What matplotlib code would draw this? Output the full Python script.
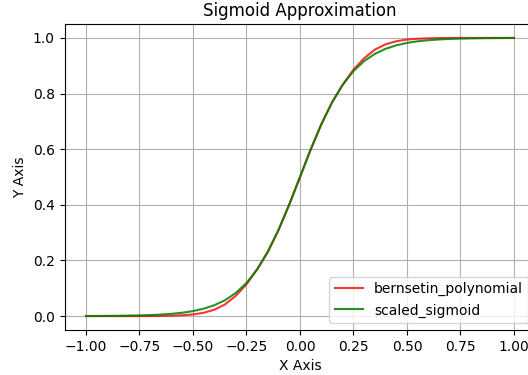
import matplotlib
matplotlib.use("Agg")
import matplotlib.pyplot as plt
import numpy as np

x = [-1.0, -0.95, -0.9, -0.85, -0.8, -0.75, -0.7, -0.65, -0.6, -0.55, -0.5,
     -0.45, -0.4, -0.35, -0.3, -0.25, -0.2, -0.15, -0.1, -0.05, 0.0,
     0.05, 0.1, 0.15, 0.2, 0.25, 0.3, 0.35, 0.4, 0.45, 0.5,
     0.55, 0.6, 0.65, 0.7, 0.75, 0.8, 0.85, 0.9, 0.95, 1.0]

bernstein = [0.0, 0.0, 0.0, 0.0, 0.0, 0.0, 0.0003, 0.0008, 0.0015, 0.003, 0.006,
             0.012, 0.023, 0.042, 0.073, 0.114, 0.168, 0.2315, 0.31, 0.4013, 0.5,
             0.5987, 0.69, 0.7685, 0.832, 0.886, 0.927, 0.958, 0.977, 0.988, 0.994,
             0.997, 0.9985, 0.9992, 0.9997, 1.0, 1.0, 1.0, 1.0, 1.0, 1.0]

sigmoid = [0.0003, 0.0005, 0.0007, 0.0011, 0.0017, 0.0025, 0.0037, 0.0055, 0.0082, 0.0121, 0.018,
           0.0266, 0.0392, 0.0573, 0.0832, 0.1192, 0.168, 0.2315, 0.31, 0.4013, 0.5,
           0.5987, 0.69, 0.7685, 0.832, 0.8808, 0.9168, 0.9427, 0.9608, 0.9734, 0.982,
           0.9879, 0.9918, 0.9945, 0.9963, 0.9975, 0.9983, 0.9989, 0.9993, 0.9995, 0.9997]

fig = plt.figure(figsize=(5.28, 3.75), dpi=100)
ax = fig.add_axes([0.1223, 0.12, 0.8917, 0.816])
ax.plot(x, bernstein, color="red", alpha=0.8, lw=1.5, label="bernsetin_polynomial")
ax.plot(x, sigmoid, color="green", alpha=0.85, lw=1.5, label="scaled_sigmoid")
ax.set_xlim(-1.1, 1.1)
ax.set_ylim(-0.05, 1.05)
ax.set_xticks([-1.0, -0.75, -0.5, -0.25, 0.0, 0.25, 0.5, 0.75, 1.0])
ax.set_xticklabels(["−1.00", "−0.75", "−0.50", "−0.25", "0.00", "0.25", "0.50", "0.75", "1.00"])
ax.set_yticks([0.0, 0.2, 0.4, 0.6, 0.8, 1.0])
ax.grid(True, color="#b0b0b0", lw=0.8)
ax.set_title("Sigmoid Approximation")
ax.set_xlabel("X Axis")
ax.set_ylabel("Y Axis")
ax.legend(loc="lower right")
fig.savefig("out.png", dpi=100)
